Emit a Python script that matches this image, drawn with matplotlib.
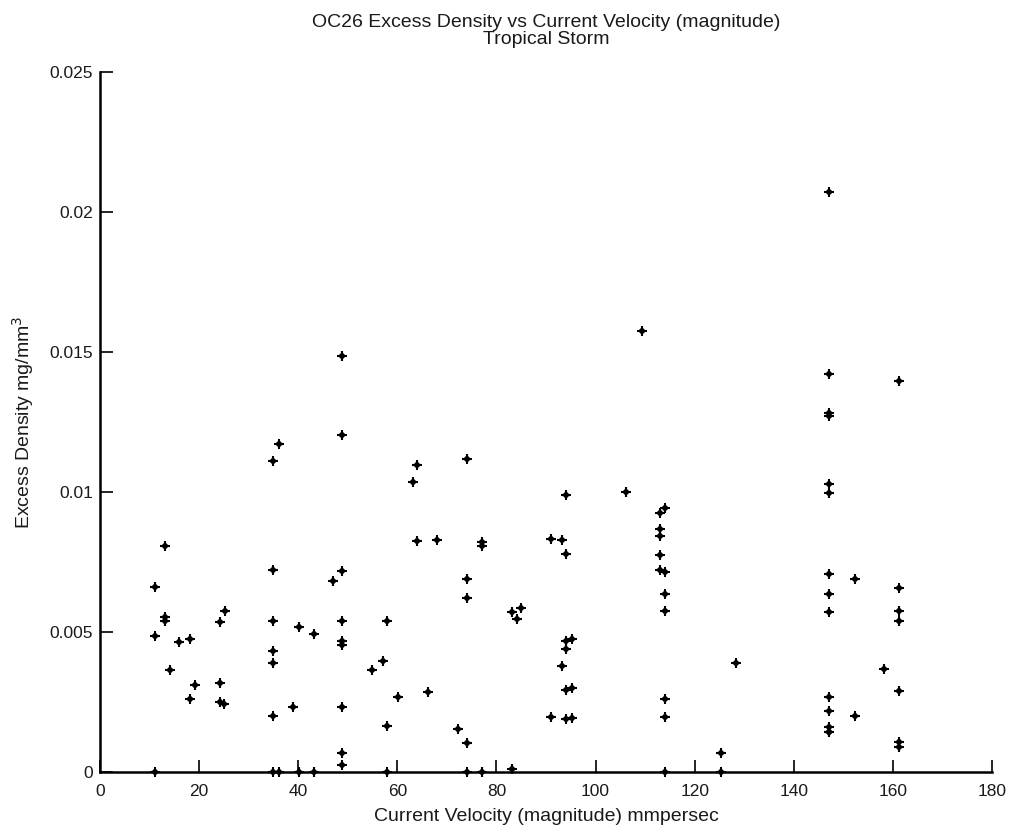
import matplotlib

matplotlib.use("Agg")
import matplotlib.pyplot as plt

# Current velocity magnitude (mm/s) and excess density (mg/mm^3) samples
velocity = [
    11.1, 11.1, 11.1,
    13.1, 13.1, 13.1,
    14.2, 16.0, 18.2, 18.2, 19.2,
    24.3, 24.3, 24.3, 25.2, 25.0,
    35.0, 35.0, 35.0, 35.0, 35.0, 35.0, 35.0,
    36.2, 36.2,
    38.9, 40.1, 40.1, 43.1, 43.1,
    47.0,
    48.9, 48.9, 48.9, 48.9, 48.9, 48.9, 48.9, 48.9, 48.9,
    54.9, 57.1,
    58.0, 58.0, 58.0,
    60.1, 63.2, 64.0, 64.0, 66.2, 68.0, 72.3,
    74.1, 74.1, 74.1, 74.1, 74.1,
    77.1, 77.1, 77.1,
    83.1, 83.1, 84.1, 85.0,
    91.0, 91.0, 93.2, 93.2,
    94.1, 94.1, 94.1, 94.1, 94.1, 94.1,
    95.3, 95.3, 95.3,
    106.2, 109.3,
    113.1, 113.1, 113.1, 113.1, 113.1,
    114.1, 114.1, 114.1, 114.1, 114.1, 114.1, 114.1,
    125.3, 125.3, 128.4,
    147.2, 147.2, 147.2, 147.2, 147.2, 147.2, 147.2, 147.2, 147.2,
    147.2, 147.2, 147.2, 147.2, 147.2,
    152.4, 152.4, 158.2,
    161.2, 161.2, 161.2, 161.2, 161.2, 161.2, 161.2,
]
excess_density = [
    0.00662, 0.00487, 0.0,
    0.00807, 0.00552, 0.00539,
    0.00363, 0.00465, 0.00476, 0.00261, 0.00310,
    0.00535, 0.00318, 0.00251, 0.00576, 0.00243,
    0.01112, 0.00721, 0.00539, 0.00433, 0.00389, 0.00201, 0.0,
    0.01171, 0.0,
    0.00233, 0.00517, 0.0, 0.00492, 0.0,
    0.00683,
    0.01484, 0.01204, 0.00716, 0.00539, 0.00468, 0.00452, 0.00233, 0.00069, 0.00025,
    0.00363, 0.00396,
    0.00539, 0.00164, 0.0,
    0.00267, 0.01037, 0.01096, 0.00824, 0.00287, 0.00829, 0.00154,
    0.01118, 0.00689, 0.00620, 0.00102, 0.0,
    0.00822, 0.00807, 0.0,
    0.00571, 0.00010, 0.00545, 0.00587,
    0.00833, 0.00196, 0.00829, 0.00379,
    0.00989, 0.00779, 0.00467, 0.00438, 0.00293, 0.00188,
    0.00476, 0.00299, 0.00192,
    0.01000, 0.01576,
    0.00925, 0.00867, 0.00844, 0.00774, 0.00721,
    0.00942, 0.00713, 0.00636, 0.00576, 0.00261, 0.00196, 0.0,
    0.00067, 0.0, 0.00390,
    0.02070, 0.01420, 0.01282, 0.01272, 0.01027, 0.00995, 0.00706, 0.00636, 0.00570,
    0.00267, 0.00219, 0.00162, 0.00144, 0.00144,
    0.00689, 0.00201, 0.00367,
    0.01396, 0.00657, 0.00576, 0.00538, 0.00288, 0.00107, 0.00088,
]

x_ticks = [0, 20, 40, 60, 80, 100, 120, 140, 160, 180]
y_ticks = [0, 0.005, 0.01, 0.015, 0.02, 0.025]
y_tick_labels = ["0", "0.005", "0.01", "0.015", "0.02", "0.025"]

plt.rcParams["font.family"] = ["Liberation Sans", "DejaVu Sans"]
text_color = "#1a1a1a"

fig = plt.figure(figsize=(10.13, 8.3), dpi=100)
ax = fig.add_axes([0.0987, 0.0699, 0.8806, 0.8434])

# asterisk-like marker: a plus with a small filled core
ax.plot(velocity, excess_density, linestyle="none", marker="+",
        markersize=7, markeredgewidth=1.5, color="black", clip_on=False)
ax.plot(velocity, excess_density, linestyle="none", marker="D",
        markersize=4, markeredgewidth=0, color="black", clip_on=False)

ax.set_xlim(0, 180)
ax.set_ylim(0, 0.025)
ax.set_xticks(x_ticks)
ax.set_xticklabels([str(t) for t in x_ticks])
ax.set_yticks(y_ticks)
ax.set_yticklabels(y_tick_labels)

ax.spines["top"].set_visible(False)
ax.spines["right"].set_visible(False)
for side in ("left", "bottom"):
    ax.spines[side].set_linewidth(1.8)
ax.tick_params(direction="in", length=9, width=1.2, labelsize=12.5,
               colors="black", labelcolor=text_color)
ax.tick_params(axis="x", pad=9)
ax.tick_params(axis="y", pad=5)

ax.set_xlabel("Current Velocity (magnitude) mmpersec", fontsize=14,
              color=text_color, labelpad=6)
ax.set_ylabel("Excess Density mg/mm$^3$", fontsize=14, color=text_color,
              labelpad=10)
ax.set_title("OC26 Excess Density vs Current Velocity (magnitude)\nTropical Storm",
             fontsize=14, color=text_color, pad=20, linespacing=1.05)

fig.savefig("out.png", dpi=100)
plt.close(fig)
